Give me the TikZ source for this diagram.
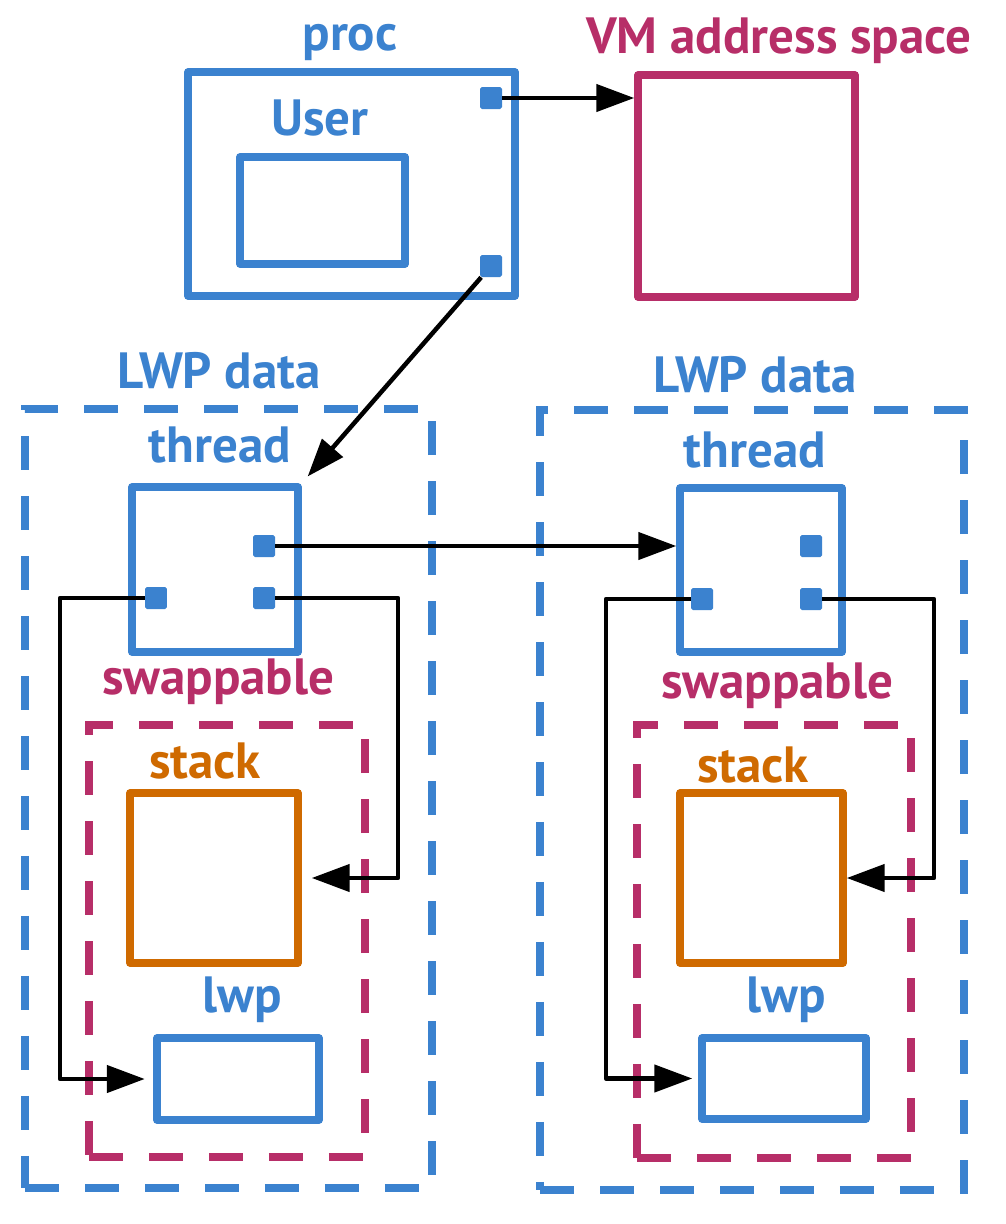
\documentclass[tikz,border=0pt]{standalone}
\usepackage{fontspec}
\setmainfont{PT Sans}
\usepackage{xcolor}
\usepackage{tikz}
\usetikzlibrary{arrows.meta, positioning, calc}
\definecolor{procblue}{RGB}{59, 130, 207}
\definecolor{vmred}{RGB}{183, 46, 104}
\definecolor{stackorange}{RGB}{207, 106, 0}

\begin{document}
\begin{tikzpicture}[
    x=0.02cm, y=-0.02cm,
    box/.style={draw=#1, line width=0.15cm, line join=round, inner sep=0pt, fill=white},
    region/.style={draw=#1, line width=0.15cm, dash pattern=on 0.68cm off 0.52cm, inner sep=0pt},
    slot/.style={fill=procblue, rounded corners=1pt, minimum width=0.44cm, minimum height=0.44cm, inner sep=0pt},
    lbl/.style={anchor=base, inner sep=0pt, font=\fontsize{29}{34}\selectfont\bfseries},
    arrow/.style={-{Triangle[length=0.76cm, width=0.54cm]}, line width=0.09cm, line join=round}
]
    \useasboundingbox (0,0) rectangle (1006,1224);

    % LWP data regions
    \node[region=procblue, minimum width=8.14cm, minimum height=15.58cm] (lwpdata1) at (228.5, 798.5) {};
    \node[lbl, text=procblue] (lwpdatalbl1) at (219, 388) {LWP data};
    \node[region=procblue, minimum width=8.48cm, minimum height=15.6cm] (lwpdata2) at (752, 800) {};
    \node[lbl, text=procblue] (lwpdatalbl2) at (755, 392) {LWP data};

    % Swappable regions
    \node[region=vmred, minimum width=5.52cm, minimum height=8.64cm] (swap1) at (227, 941) {};
    \node[lbl, text=vmred] (swaplbl1) at (218, 694) {swappable};
    \node[region=vmred, minimum width=5.48cm, minimum height=8.66cm] (swap2) at (774, 941.5) {};
    \node[lbl, text=vmred] (swaplbl2) at (777, 698) {swappable};

    % Proc
    \node[box=procblue, minimum width=6.54cm, minimum height=4.48cm] (proc) at (351.5, 184) {};
    \node[lbl, text=procblue] (proclbl) at (350, 50) {proc};
    \node[box=procblue, minimum width=3.3cm, minimum height=2.14cm] (user) at (322.5, 210.5) {};
    \node[lbl, text=procblue] (userlbl) at (320, 135) {User};
    \node[slot] (psqA) at (491, 98) {};
    \node[slot] (psqB) at (491, 266) {};

    % VM address space
    \node[box=vmred, minimum width=4.34cm, minimum height=4.44cm] (vm) at (746.5, 186) {};
    \node[lbl, text=vmred] (vmlbl) at (779, 53) {VM address space};

    % Threads
    \node[box=procblue, minimum width=3.32cm, minimum height=3.3cm] (thread1) at (215, 569.5) {};
    \node[lbl, text=procblue] (threadlbl1) at (220, 462) {thread};
    \node[slot] (t1a) at (264, 546) {};
    \node[slot] (t1b) at (156, 598) {};
    \node[slot] (t1c) at (264, 598) {};

    \node[box=procblue, minimum width=3.24cm, minimum height=3.28cm] (thread2) at (761, 570) {};
    \node[lbl, text=procblue] (threadlbl2) at (755, 467) {thread};
    \node[slot] (t2a) at (811, 546) {};
    \node[slot] (t2b) at (702, 599) {};
    \node[slot] (t2c) at (811, 599) {};

    % Stacks
    \node[box=stackorange, minimum width=3.36cm, minimum height=3.4cm] (stack1) at (214, 878) {};
    \node[lbl, text=stackorange] (stacklbl1) at (205, 778) {stack};
    \node[box=stackorange, minimum width=3.26cm, minimum height=3.4cm] (stack2) at (761.5, 878) {};
    \node[lbl, text=stackorange] (stacklbl2) at (753, 782) {stack};

    % LWPs
    \node[box=procblue, minimum width=3.24cm, minimum height=1.64cm] (lwp1) at (238, 1079) {};
    \node[lbl, text=procblue] (lwplbl1) at (242, 1012) {lwp};
    \node[box=procblue, minimum width=3.28cm, minimum height=1.62cm] (lwp2) at (784, 1078.5) {};
    \node[lbl, text=procblue] (lwplbl2) at (786, 1012) {lwp};

    % Bends
    \coordinate (bend1) at (60, 0);
    \coordinate (bend2) at (398, 0);
    \coordinate (bend3) at (606, 0);
    \coordinate (bend4) at (934, 0);

    % Connections
    \draw[arrow] (psqA) -- (psqA -| vm.west);
    \draw[arrow, shorten >=0.18cm] (psqB) -- (thread1.north east);
    \draw[arrow] (t1a) -- (t1a -| thread2.west);
    \draw[arrow, shorten >=0.17cm] (t1b) -- (t1b -| bend1) |- (lwp1.west);
    \draw[arrow, shorten >=0.2cm] (t1c) -- (t1c -| bend2) |- (stack1.east);
    \draw[arrow, shorten >=0.12cm] (t2b) -- (t2b -| bend3) |- (lwp2.west);
    \draw[arrow] (t2c) -- (t2c -| bend4) |- (stack2.east);

\end{tikzpicture}
\end{document}
